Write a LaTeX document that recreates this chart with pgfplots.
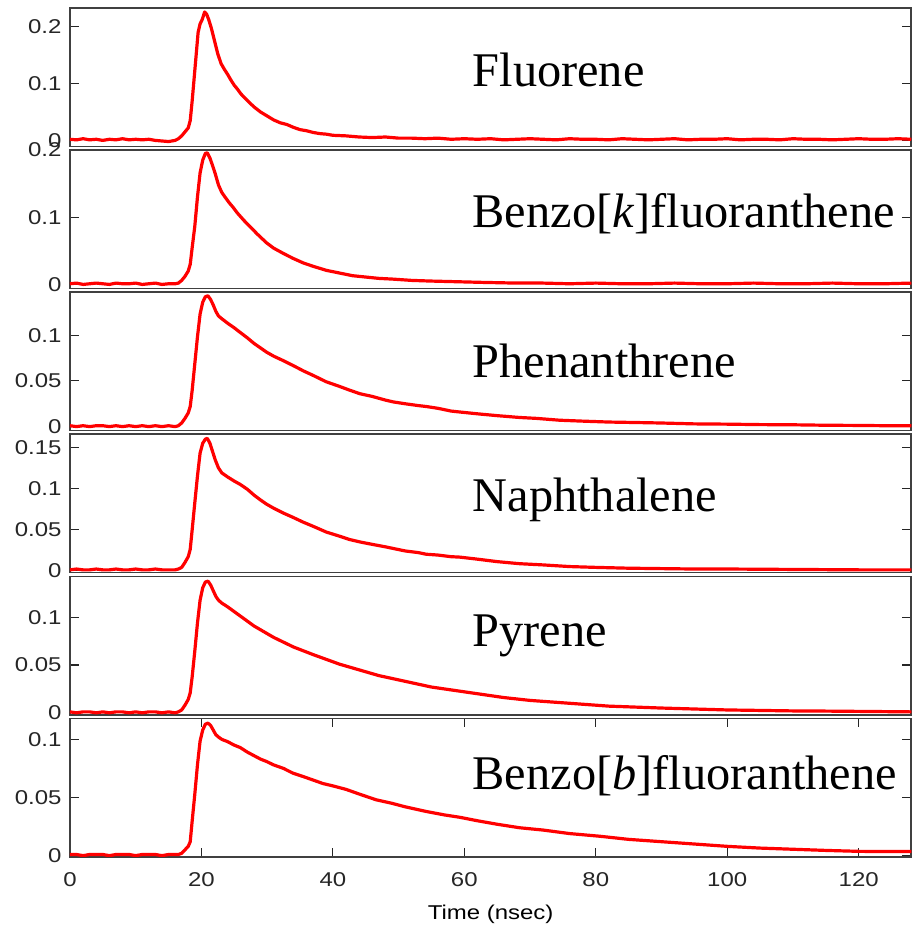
\documentclass[border=0pt]{standalone}
\usepackage{fontspec}
\setmainfont{Liberation Sans}
\newfontfamily\serifname{Liberation Serif}
\usepackage{pgfplots}
\pgfplotsset{compat=1.18}
\usepgfplotslibrary{groupplots}

% Fluorescence decay traces, intensity vs. time (nsec)
\pgfplotstableread{
x y
0 0.002
1 0.001
2 0.003
3 0.001
4 0.002
5 0.000
6 0.002
7 0.001
8 0.003
9 0.001
10 0.002
11 0.001
12 0.002
13 0.000
14 -0.001
15 -0.002
16 0.000
16.5 0.003
17 0.008
17.5 0.015
18 0.022
18.3 0.035
18.6 0.070
18.9 0.110
19.2 0.150
19.5 0.190
19.8 0.205
20.1 0.212
20.5 0.226
20.8 0.222
21.1 0.213
21.5 0.198
22 0.175
22.5 0.152
23 0.135
23.5 0.125
24 0.116
24.5 0.106
25 0.097
25.5 0.090
26 0.082
27 0.070
28 0.059
29 0.050
30 0.043
31 0.036
32 0.031
33 0.028
34 0.023
35 0.019
36 0.017
37 0.014
38 0.012
39 0.011
40 0.009
42 0.008
44 0.006
46 0.005
48 0.006
50 0.004
52 0.004
54 0.003
56 0.004
58 0.002
60 0.003
62 0.002
64 0.003
66 0.001
68 0.002
70 0.003
72 0.002
74 0.001
76 0.003
78 0.002
80 0.002
82 0.001
84 0.003
86 0.002
88 0.001
90 0.002
92 0.003
94 0.001
96 0.002
98 0.002
100 0.003
102 0.001
104 0.002
106 0.002
108 0.001
110 0.003
112 0.002
114 0.002
116 0.001
118 0.002
120 0.003
122 0.002
124 0.002
126 0.003
128 0.002
}\fluorene

\pgfplotstableread{
x y
0 0.001
1 0.002
2 0.000
3 0.001
4 0.002
5 0.001
6 0.000
7 0.002
8 0.001
9 0.001
10 0.002
11 0.000
12 0.001
13 0.002
14 0.000
15 0.001
16 0.001
16.5 0.002
17 0.006
17.5 0.012
18 0.020
18.3 0.030
18.6 0.055
19.0 0.087
19.4 0.130
19.8 0.166
20.2 0.185
20.6 0.195
20.9 0.196
21.3 0.188
21.7 0.177
22.1 0.165
22.6 0.148
23.1 0.137
23.6 0.130
24.2 0.122
24.8 0.115
25.5 0.106
26.5 0.095
27.4 0.086
28.5 0.075
29.9 0.062
31 0.054
32.5 0.046
33.9 0.039
35.5 0.032
37 0.027
39 0.021
41 0.017
43 0.013
45 0.011
47 0.009
49 0.008
52 0.006
55 0.005
59 0.004
63 0.003
68 0.002
72 0.002
76 0.001
80 0.002
84 0.001
88 0.001
92 0.002
96 0.001
100 0.001
104 0.002
108 0.001
112 0.001
116 0.002
120 0.001
124 0.001
128 0.002
}\benzok

\pgfplotstableread{
x y
0 0.001
1 0.000
2 0.001
3 0.000
4 0.001
5 0.001
6 0.000
7 0.001
8 0.000
9 0.001
10 0.000
11 0.001
12 0.000
13 0.001
14 0.000
15 0.001
16 0.000
16.5 0.001
17 0.004
17.5 0.009
18 0.015
18.3 0.022
18.6 0.040
19.0 0.069
19.4 0.098
19.8 0.123
20.2 0.136
20.6 0.142
21.0 0.143
21.4 0.139
21.8 0.133
22.2 0.126
22.6 0.121
23.1 0.118
24 0.113
25 0.108
25.9 0.103
27 0.097
28 0.091
29 0.086
29.9 0.0815
31 0.077
32.5 0.072
33.9 0.067
35.5 0.061
37 0.056
39 0.049
41 0.044
42.5 0.040
44.1 0.036
46 0.033
48 0.029
49.2 0.027
51 0.025
53 0.023
54.2 0.022
56 0.020
58 0.017
59.3 0.016
62 0.014
65 0.012
68.4 0.010
71 0.009
74.5 0.007
78 0.006
82 0.005
86 0.0045
89.7 0.004
95 0.003
100 0.0027
105 0.0022
110 0.002
115 0.0015
120 0.0013
124 0.001
128 0.001
}\phenanthrene

\pgfplotstableread{
x y
0 0.001
1 0.002
2 0.001
3 0.001
4 0.002
5 0.001
6 0.001
7 0.002
8 0.001
9 0.001
10 0.002
11 0.001
12 0.001
13 0.002
14 0.001
15 0.001
16 0.001
16.5 0.002
17 0.004
17.5 0.010
18 0.017
18.3 0.026
18.6 0.050
19.0 0.083
19.4 0.115
19.8 0.143
20.2 0.155
20.6 0.160
20.9 0.161
21.3 0.155
21.7 0.145
22.1 0.135
22.6 0.125
23.1 0.119
24 0.114
25 0.109
25.9 0.105
27 0.099
28 0.092
29 0.086
29.9 0.081
31 0.076
32.5 0.070
33.9 0.065
35.5 0.059
37 0.054
39 0.047
41 0.042
42.5 0.038
44.1 0.035
46 0.032
48 0.029
49.2 0.027
51 0.024
53 0.022
54.2 0.020
56 0.019
58 0.017
59.3 0.0165
62 0.014
65 0.011
68.4 0.0085
72 0.007
76 0.005
80 0.004
85 0.003
90 0.0025
95 0.002
100 0.002
110 0.0015
120 0.001
128 0.001
}\naphthalene

\pgfplotstableread{
x y
0 0.001
1 0.000
2 0.001
3 0.001
4 0.000
5 0.001
6 0.000
7 0.001
8 0.001
9 0.000
10 0.001
11 0.000
12 0.001
13 0.001
14 0.000
15 0.001
16 0.000
16.5 0.001
17 0.003
17.5 0.008
18 0.014
18.3 0.021
18.6 0.038
19.0 0.065
19.4 0.094
19.8 0.118
20.2 0.131
20.6 0.137
21.0 0.138
21.4 0.134
21.8 0.128
22.2 0.122
22.6 0.118
23.1 0.115
24 0.111
25 0.106
26 0.101
27 0.096
28 0.091
29 0.087
30 0.083
31 0.079
32.5 0.074
34 0.069
35.5 0.065
37 0.061
39 0.056
41 0.051
43 0.047
45 0.043
47 0.039
49 0.036
51 0.033
53 0.030
55 0.027
57 0.025
60 0.022
63 0.019
66 0.016
70 0.013
74 0.011
78 0.009
82 0.007
86 0.006
90 0.005
95 0.004
100 0.003
105 0.0025
110 0.002
115 0.0018
120 0.0015
128 0.001
}\pyrene

\pgfplotstableread{
x y
0 0.001
1 0.001
2 0.000
3 0.001
4 0.001
5 0.001
6 0.000
7 0.001
8 0.001
9 0.001
10 0.000
11 0.001
12 0.001
13 0.001
14 0.000
15 0.001
16 0.001
16.5 0.001
17 0.002
17.5 0.005
18 0.008
18.3 0.012
18.6 0.030
19.0 0.053
19.4 0.078
19.8 0.0985
20.2 0.108
20.6 0.113
21.0 0.114
21.4 0.112
21.8 0.108
22.2 0.104
22.6 0.102
23.1 0.100
24 0.098
25 0.095
25.9 0.093
27 0.089
28 0.086
29 0.083
29.9 0.081
31 0.078
32.5 0.075
33.9 0.071
35.5 0.068
37 0.065
38.5 0.062
40 0.060
42 0.057
44 0.053
46.6 0.048
49 0.045
51 0.042
54.2 0.038
57 0.035
59.3 0.033
62 0.030
65 0.027
68.4 0.024
72 0.022
76 0.019
80.6 0.0167
85 0.014
90 0.012
95 0.010
100 0.008
105 0.0065
110 0.0055
115 0.0045
120 0.0037
124 0.0035
128 0.0035
}\benzob

\pgfplotsset{
  trace/.style={red, line width=1.6pt, line join=round},
}
\tikzset{
  name label/.style={anchor=base west, font=\serifname\fontsize{24.2}{28}\selectfont},
}

\begin{document}
\begin{tikzpicture}
\begin{groupplot}[
  group style={group name=G, group size=1 by 6, vertical sep=1.85pt},
  width=421pt, height=69.25pt, scale only axis,
  xmin=0, xmax=128,
  xtick=\empty,
  tick align=inside,
  ytick pos=both, yticklabel pos=left,
  major tick length=4.5pt,
  axis line style={black!75, line width=0.8pt},
  every tick/.style={black!85, line width=0.6pt},
  tick label style={font=\fontsize{10}{12}\selectfont, text=black!85, xscale=1.2},
  /pgf/number format/assume math mode=true,
  clip=true,
]
\nextgroupplot[ymin=-0.0105, ymax=0.233, ytick={0,0.1,0.2}, yticklabels={0,0.1,0.2}]
\addplot[trace] table {\fluorene};
\node[name label] at (rel axis cs:0.4703,0.43) {Fluorene};

\nextgroupplot[ymin=-0.006, ymax=0.2, ytick={0,0.1,0.2}, yticklabels={0,0.1,0.2}]
\addplot[trace] table {\benzok};
\node[name label] at (rel axis cs:0.4703,0.44) {Benzo[\textit{k}]fluoranthene};

\nextgroupplot[ymin=-0.0043, ymax=0.147, ytick={0,0.05,0.1}, yticklabels={0,0.05,0.1}]
\addplot[trace] table {\phenanthrene};
\node[name label] at (rel axis cs:0.4703,0.385) {Phenanthrene};

\nextgroupplot[ymin=-0.0024, ymax=0.166, ytick={0,0.05,0.1,0.15}, yticklabels={0,0.05,0.1,0.15}]
\addplot[trace] table {\naphthalene};
\node[name label] at (rel axis cs:0.4703,0.44) {Naphthalene};

\nextgroupplot[ymin=-0.002, ymax=0.143, ytick={0,0.05,0.1}, yticklabels={0,0.05,0.1}]
\addplot[trace] table {\pyrene};
\node[name label] at (rel axis cs:0.4703,0.49) {Pyrene};

\nextgroupplot[ymin=-0.001, ymax=0.118, ytick={0,0.05,0.1}, yticklabels={0,0.05,0.1},
  xtick={0,20,40,60,80,100,120}, xticklabels={0,20,40,60,80,100,120},
  xtick pos=both, xticklabel pos=bottom,
  xticklabel style={yshift=-4.5pt},
  xlabel={Time (nsec)}, xlabel style={font=\fontsize{10}{12}\selectfont, xscale=1.2, yshift=-2pt}]
\addplot[trace] table {\benzob};
\node[name label] at (rel axis cs:0.4703,0.485) {Benzo[\textit{b}]fluoranthene};
\end{groupplot}
% page margins around the panel stack
\path (G c1r1.north west) ++(-35pt,4pt);
\path (G c1r6.south east) ++(1pt,-36.5pt);
\end{tikzpicture}
\end{document}
